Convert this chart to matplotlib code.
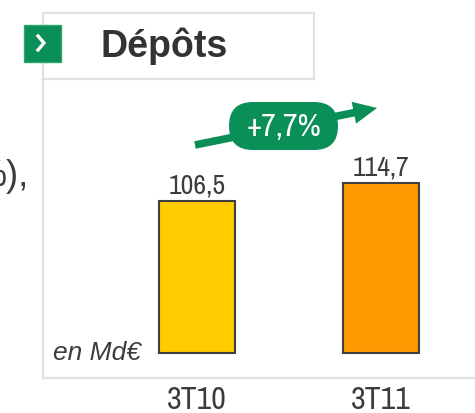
import matplotlib
matplotlib.use("Agg")
import matplotlib.pyplot as plt
from matplotlib.patches import FancyBboxPatch, Rectangle

categories = ["3T10", "3T11"]
values = [106.5, 114.7]
value_labels = ["106,5", "114,7"]
bar_colors = ["#FFCC00", "#FF9900"]
base_value = 37.2
title = "Dépôts"
growth_label = "+7,7%"
unit_label = "en Md€"
cut_text = "%),"

W, H = 475, 413
GREEN = "#0A8F58"
GREY = "#E2E2E2"
DARK = "#3C3C3C"
NARROW = ["Archivo Narrow", "Liberation Sans", "DejaVu Sans"]
SANS = ["Liberation Sans", "DejaVu Sans"]

fig = plt.figure(figsize=(W / 100, H / 100), dpi=100)

# overlay in pixel coordinates for the frame, title box and arrow
deco = fig.add_axes([0, 0, 1, 1])
deco.set_xlim(0, W)
deco.set_ylim(H, 0)
deco.axis("off")

deco.plot([43, 43], [13, 378], color=GREY, lw=1.6)
deco.plot([43, W], [378, 378], color=GREY, lw=1.6)
deco.plot([43, 314, 314], [13, 13, 79], color=GREY, lw=1.6)
deco.plot([43, 314], [79, 79], color=GREY, lw=1.6)

deco.add_patch(Rectangle((23.5, 24.5), 37, 37, fc=GREEN, ec="#2FA572", lw=1, zorder=3))
deco.plot([38, 44, 38], [36, 43, 50], color="white", lw=2.4, zorder=4, solid_joinstyle="miter")
deco.text(164, 46, title, fontsize=27, fontweight="bold", color="#333333",
          family=SANS, ha="center", va="center")

deco.text(29, 176, cut_text, fontsize=26, color=DARK, family=SANS,
          ha="right", va="center")

deco.annotate("", xy=(377, 108), xytext=(195, 145),
              arrowprops=dict(arrowstyle="simple,head_length=17,head_width=16,tail_width=5.5",
                              mutation_scale=1, fc=GREEN, ec=GREEN, lw=0, shrinkA=0, shrinkB=0))
deco.add_patch(FancyBboxPatch((229, 102), 109, 48, boxstyle="round,pad=0,rounding_size=24",
                              fc=GREEN, ec="none", zorder=3))
deco.text(284, 127, growth_label, fontsize=23, color="white", family=NARROW,
          ha="center", va="center", zorder=4)

# bars, y axis does not start at zero in the source
ax = fig.add_axes([43 / W, 1 - 378 / H, (W - 43) / W, 300 / H])
ax.patch.set_alpha(0)
positions = list(range(len(categories)))
ax.bar(positions, [v - base_value for v in values], bottom=base_value, width=0.415,
       color=bar_colors, edgecolor="#404040", linewidth=1.5)
ax.set_xlim(-0.837, 1.511)
ax.set_ylim(25.8, 162.5)
for side in ax.spines.values():
    side.set_visible(False)
ax.set_yticks([])
ax.set_xticks(positions)
ax.set_xticklabels(categories, fontsize=23, color=DARK, family=NARROW)
ax.tick_params(axis="x", length=0, pad=6)
for x, v, lab in zip(positions, values, value_labels):
    ax.annotate(lab, (x, v), xytext=(0, 2), textcoords="offset points", ha="center", va="bottom",
                fontsize=20, color=DARK, family=NARROW)

deco.text(53, 353, unit_label, fontsize=19, style="italic", color=DARK, family=SANS,
          ha="left", va="center")

fig.savefig("out.png", dpi=100)
